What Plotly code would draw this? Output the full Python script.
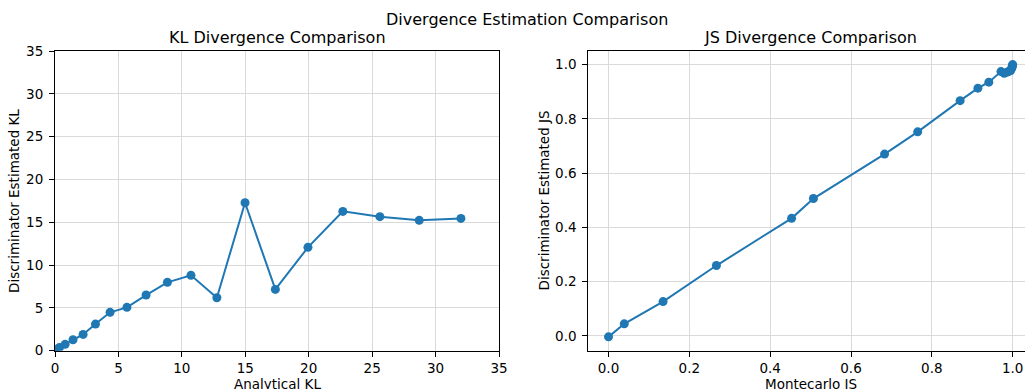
import plotly.graph_objects as go

# ---- data ----
kl_analytical = [0.0, 0.089, 0.355, 0.798, 1.418, 2.216, 3.19, 4.34, 5.67, 7.18,
                 8.86, 10.72, 12.76, 14.98, 17.37, 19.94, 22.69, 25.61, 28.71, 32.0]
kl_estimated = [0.02, 0.12, 0.38, 0.74, 1.28, 1.9, 3.11, 4.48, 5.06, 6.5,
                7.98, 8.8, 6.19, 17.28, 7.16, 12.07, 16.27, 15.65, 15.22, 15.45]

js_montecarlo = [0.0, 0.039, 0.135, 0.267, 0.453, 0.507, 0.683, 0.765, 0.870, 0.914,
                 0.941, 0.971, 0.979, 0.986, 0.991, 0.995, 0.997, 0.999, 0.9995, 1.0]
js_estimated = [-0.004, 0.044, 0.126, 0.259, 0.433, 0.506, 0.670, 0.752, 0.867, 0.913,
                0.935, 0.974, 0.968, 0.972, 0.975, 0.978, 0.985, 0.992, 0.997, 1.0]

kl_ticks = [0, 5, 10, 15, 20, 25, 30, 35]
js_ticks = [0.0, 0.2, 0.4, 0.6, 0.8, 1.0]
js_ticklabels = ["0.0", "0.2", "0.4", "0.6", "0.8", "1.0"]

suptitle = "Divergence Estimation Comparison"
kl_title = "KL Divergence Comparison"
js_title = "JS Divergence Comparison"
kl_xlabel = "Analytical KL"
kl_ylabel = "Discriminator Estimated KL"
js_xlabel = "Montecarlo JS"
js_ylabel = "Discriminator Estimated JS"

# ---- layout geometry (pixels) ----
W, H = 1025, 389
BLUE = "#1f77b4"
FONT = "DejaVu Sans"
GRID = "#dadada"

def px_x(p):
    return p / W

def px_y(p):
    return (H - p) / H

top, bottom = 51, 350.7
ydom = [px_y(bottom), px_y(top)]
x1dom = [px_x(55), px_x(499)]
x2dom = [px_x(588.3), 1.0]

fig = go.Figure()
fig.add_trace(go.Scatter(x=kl_analytical, y=kl_estimated, mode="lines+markers",
                         line=dict(color=BLUE, width=2),
                         marker=dict(color=BLUE, size=9),
                         xaxis="x", yaxis="y", showlegend=False))
fig.add_trace(go.Scatter(x=js_montecarlo, y=js_estimated, mode="lines+markers",
                         line=dict(color=BLUE, width=2),
                         marker=dict(color=BLUE, size=9),
                         xaxis="x2", yaxis="y2", showlegend=False))

axis_common = dict(showgrid=True, gridcolor=GRID, gridwidth=1,
                   showline=True, linecolor="black", linewidth=1,
                   ticks="outside", ticklen=5, tickwidth=1, tickcolor="black",
                   zeroline=False, automargin=False,
                   tickfont=dict(family=FONT, size=13.5, color="black"))

fig.update_layout(
    template="none",
    width=W, height=H,
    margin=dict(l=0, r=0, t=0, b=0, pad=0),
    paper_bgcolor="white", plot_bgcolor="white",
    font=dict(family=FONT, color="black"),
    xaxis=dict(domain=x1dom, range=[0, 35], tickvals=kl_ticks, mirror=True,
               anchor="y", **axis_common),
    yaxis=dict(domain=ydom, range=[0, 35], tickvals=kl_ticks, mirror=True,
               anchor="x", ticklabelstandoff=3, **axis_common),
    xaxis2=dict(domain=x2dom, range=[-0.05, 1.0305], tickvals=js_ticks,
                ticktext=js_ticklabels, mirror=True, anchor="y2", **axis_common),
    yaxis2=dict(domain=ydom, range=[-0.055, 1.05], tickvals=js_ticks,
                ticktext=js_ticklabels, anchor="x2", ticklabelstandoff=3, **axis_common),
)

ann = []
def add_text(text, x, y, size, angle=0, xanchor="center", yanchor="middle"):
    ann.append(dict(text=text, x=px_x(x), y=px_y(y), xref="paper", yref="paper",
                    showarrow=False, textangle=angle, xanchor=xanchor, yanchor=yanchor,
                    borderpad=0,
                    font=dict(family=FONT, size=size, color="black")))

add_text(suptitle, 527, 19, 16)
add_text(kl_title, 277, 37, 16)
add_text(js_title, 810.5, 37, 16)
add_text(kl_xlabel, 277, 375, 13.5, yanchor="top")
add_text(js_xlabel, 810.5, 375, 13.5, yanchor="top")
add_text(kl_ylabel, 14, 201, 13.5, angle=-90)
add_text(js_ylabel, 543.5, 201, 13.5, angle=-90)
fig.update_layout(annotations=ann)

fig.write_html("out.html")
